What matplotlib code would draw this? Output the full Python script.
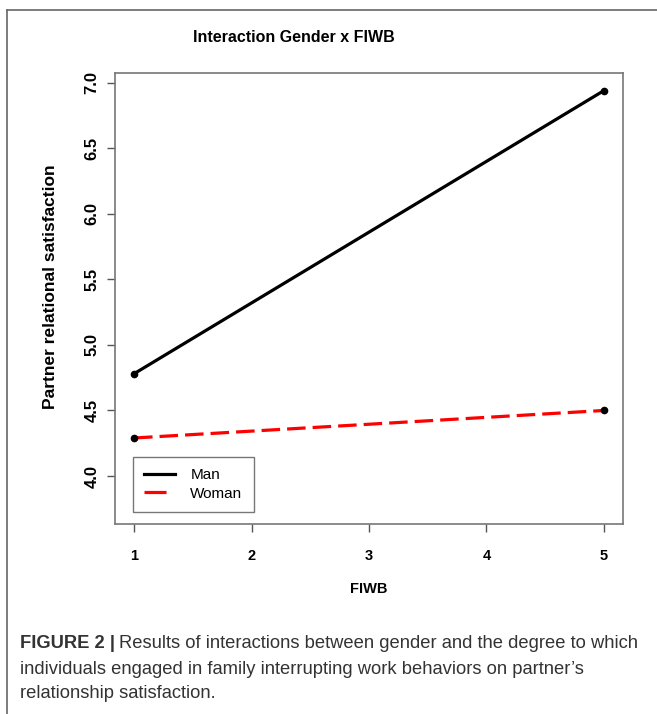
import numpy as np
import matplotlib.pyplot as plt
from matplotlib.lines import Line2D

plt.rcParams['font.family'] = ['Liberation Sans', 'DejaVu Sans']

# data
fiwb = [1, 5]
man = [4.78, 6.94]
woman = [4.29, 4.50]
x_ticks = [1, 2, 3, 4, 5]
y_ticks = [4.0, 4.5, 5.0, 5.5, 6.0, 6.5, 7.0]
series_names = ['Man', 'Woman']

W, H = 657, 714
fig = plt.figure(figsize=(W/100, H/100), dpi=100)

# outer frame of the figure panel (top and left rules)
fig.add_artist(Line2D([7/W, 1], [1-10/H, 1-10/H], color='#666666', lw=1.2))
fig.add_artist(Line2D([7/W, 7/W], [0, 1-10/H], color='#666666', lw=1.2))

ax = fig.add_axes([115/W, 1-524/H, (623-115)/W, (524-73)/H])

ax.plot(fiwb, man, color='black', lw=2.3, marker='o', ms=4.5, label=series_names[0])
ax.plot(fiwb, woman, color='red', lw=2.3, dashes=(5.8, 2.2),
        marker='o', ms=4.5, mfc='black', mec='black', label=series_names[1])

ax.set_xlim(0.838, 5.162)
ax.set_ylim(3.634, 7.074)
ax.set_xticks(x_ticks)
ax.set_yticks(y_ticks)
ax.set_xticklabels([str(v) for v in x_ticks], fontweight='bold', fontsize=10.5)
ax.set_yticklabels(['%.1f' % v for v in y_ticks], fontweight='bold', fontsize=12,
                   rotation=90, va='center')
ax.tick_params(direction='out', length=6, width=1, color='#555555')
ax.tick_params(axis='x', pad=12)
ax.tick_params(axis='y', pad=5)
for s in ax.spines.values():
    s.set_color('#777777')
    s.set_linewidth(1.2)

fig.text(294/W, 1-37/H, 'Interaction Gender x FIWB', fontweight='bold',
         fontsize=11.5, ha='center', va='center')
ax.set_xlabel('FIWB', fontweight='bold', fontsize=10.5)
ax.xaxis.set_label_coords(0.5, -(589-524)/451)
ax.xaxis.label.set_va('center')
ax.set_ylabel('Partner relational satisfaction', fontweight='bold', fontsize=12.5)
ax.yaxis.set_label_coords(-(115-50)/508, (524-287)/451)
ax.yaxis.label.set_va('center')

leg = ax.legend(loc='lower left', bbox_to_anchor=(18/508, 12/451), frameon=True,
                fancybox=False, fontsize=11, handlelength=2.0, handletextpad=1.0,
                borderpad=0.75, labelspacing=0.3, borderaxespad=0)
leg.get_frame().set_edgecolor('#555555')
leg.get_frame().set_linewidth(1.0)
for h in leg.legend_handles:
    h.set_marker('')
leg.legend_handles[1].set_dashes((6.9, 10))

# caption
cap_col = '#333333'
fig.canvas.draw()
r = fig.canvas.get_renderer()
t1 = fig.text(20/W, 1-643/H, 'FIGURE 2 |', fontweight='bold', fontsize=13.2,
              color=cap_col, va='center')
bb = t1.get_window_extent(renderer=r)
fig.text(bb.x1/W + 4/W, 1-643/H,
         'Results of interactions between gender and the degree to which',
         fontsize=13.2, color=cap_col, va='center')
fig.text(20/W, 1-669/H,
         'individuals engaged in family interrupting work behaviors on partner\u2019s',
         fontsize=13.2, color=cap_col, va='center')
fig.text(20/W, 1-694/H, 'relationship satisfaction.',
         fontsize=13.2, color=cap_col, va='center')

fig.savefig('out.png', dpi=100)
